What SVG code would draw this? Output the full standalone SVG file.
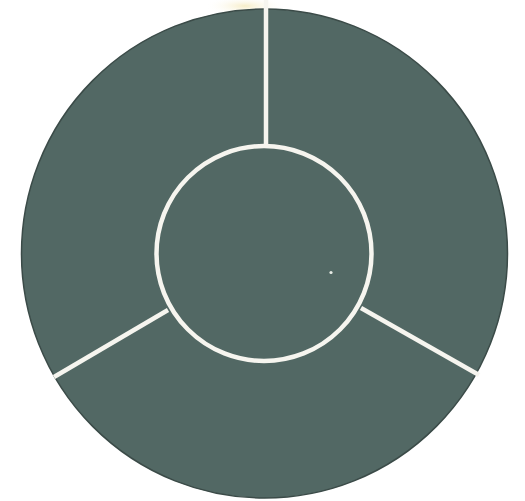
<svg xmlns="http://www.w3.org/2000/svg" width="525" height="501" viewBox="0 0 525 501">
  <defs>
    <radialGradient id="glow" cx="0.5" cy="0.5" r="0.5">
      <stop offset="0" stop-color="#f3e6b0" stop-opacity="0.7"/>
      <stop offset="1" stop-color="#ffffff" stop-opacity="0"/>
    </radialGradient>
  </defs>
  <style>
    .disc { fill: #526864; stroke: #3b4b48; stroke-width: 1.5; }
    .wl { stroke: #f6f5ef; stroke-width: 4.5; fill: none; stroke-linecap: butt; }
  </style>
  <rect width="525" height="501" fill="#ffffff"/>
  <ellipse cx="245" cy="6" rx="40" ry="10" fill="url(#glow)"/>
  <g id="outer">
    <ellipse class="disc" cx="264.5" cy="253.5" rx="243" ry="244.5"/>
  </g>
  <g id="connectors">
    <line class="wl" x1="266" y1="0" x2="266" y2="145"/>
    <line class="wl" x1="168" y1="310" x2="54" y2="377"/>
    <line class="wl" x1="361" y1="308" x2="479" y2="375"/>
  </g>
  <g id="inner">
    <circle class="wl" cx="264" cy="253.5" r="107.5" stroke-width="5"/>
  </g>
  <circle cx="331" cy="272.5" r="1.6" fill="#e8ece6"/>
</svg>
